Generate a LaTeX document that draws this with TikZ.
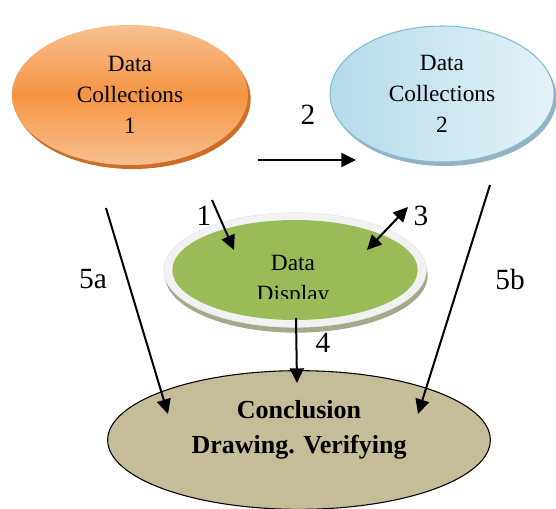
\documentclass[tikz,border=0pt]{standalone}
\usepackage{fontspec}
\setmainfont{Liberation Serif}
\usetikzlibrary{arrows.meta,shapes.geometric,shadows}

\definecolor{orangeMid}{RGB}{245,148,66}
\definecolor{orangeLight}{RGB}{249,192,145}
\definecolor{orangeDark}{RGB}{206,110,38}
\definecolor{blueLight}{RGB}{230,243,248}
\definecolor{blueMid}{RGB}{180,218,232}
\definecolor{blueEdge}{RGB}{125,192,216}
\definecolor{blueShade}{RGB}{150,178,192}
\definecolor{greenFill}{RGB}{155,187,89}
\definecolor{ringGray}{RGB}{242,242,242}
\definecolor{greenShade}{RGB}{163,170,140}
\definecolor{tanFill}{RGB}{196,189,151}

\begin{document}
\begin{tikzpicture}[x=0.75pt,y=-0.75pt,>={Triangle[length=11pt,width=10.5pt]},
  txt/.style={font=\fontsize{17.5}{23.5}\selectfont,align=center},
  lbl/.style={font=\fontsize{22}{26}\selectfont},
  blob/.style={ellipse,inner sep=0pt},
  flow/.style={->,line width=1.5pt}]
\useasboundingbox (0,0) rectangle (556,508);

% the ellipses
\node[blob,txt,minimum width=177pt,minimum height=105pt,
  top color=orangeLight,bottom color=orangeLight,middle color=orangeMid,
  drop shadow={shadow xshift=2pt,shadow yshift=-3pt,fill=orangeDark,opacity=1}]
  (coll1) at (130,95) {Data\\Collections\\1};
\node[blob,txt,minimum width=168pt,minimum height=102pt,draw=blueEdge,line width=0.8pt,
  left color=blueMid,right color=blueLight,
  drop shadow={shadow xshift=2pt,shadow yshift=-3pt,fill=blueShade,opacity=1}]
  (coll2) at (442,94) {Data\\Collections\\2};
\node[blob,minimum width=197pt,minimum height=86pt,fill=ringGray,draw=black!10,
  drop shadow={shadow xshift=1pt,shadow yshift=-4pt,fill=greenShade,opacity=1}]
  (ring) at (295,270) {};
\node[blob,minimum width=184pt,minimum height=75pt,fill=greenFill] (disp) at (295,270) {};
\begin{scope}
  \clip (150,230) rectangle (440,298);
  \node[txt] (dispTxt) at (293,281) {Data\\Display};
\end{scope}
\node[blob,minimum width=287pt,minimum height=104pt,draw=black,line width=0.8pt,
  fill=tanFill] (concl) at (299,440) {};
\node[font=\fontsize{19.5}{26}\selectfont\bfseries,align=center]
  (conclTxt) at (299,430) {Conclusion\\Drawing. Verifying};

% arrow ends
\coordinate (a1s) at (212,200); \coordinate (a1e) at (234,250);
\coordinate (a2s) at (258,160); \coordinate (a2e) at (356,160);
\coordinate (a3s) at (367,250); \coordinate (a3e) at (408,207);
\coordinate (a4s) at (296,318); \coordinate (a4e) at (297,383);
\coordinate (a5s) at (106,208); \coordinate (a5e) at (168,414);
\coordinate (b5s) at (490,185); \coordinate (b5e) at (418,414);

\draw[flow] (a1s) -- (a1e);
\draw[flow] (a2s) -- (a2e);
\draw[flow,<->] (a3s) -- (a3e);
\draw[flow] (a4s) -- (a4e);
\draw[flow] (a5s) -- (a5e);
\draw[flow] (b5s) -- (b5e);

\node[lbl] (l1) at (204,216) {1};
\node[lbl] (l2) at (308,115) {2};
\node[lbl] (l3) at (421,216) {3};
\node[lbl] (l4) at (323,343) {4};
\node[lbl] (l5a) at (93,279) {5a};
\node[lbl] (l5b) at (510,279) {5b};
\end{tikzpicture}
\end{document}
